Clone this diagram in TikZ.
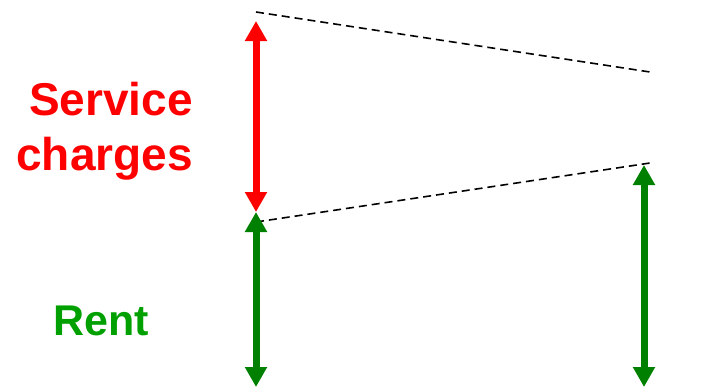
\documentclass[tikz,border=0pt]{standalone}
\usepackage{fontspec}
\setmainfont{Liberation Sans}
\usetikzlibrary{arrows.meta}
\definecolor{sred}{RGB}{255,0,0}
\definecolor{agreen}{RGB}{0,128,0}
\definecolor{tgreen}{RGB}{0,160,0}
\tikzset{
  dbl/.style={line width=7pt, {Triangle[width=21pt,length=20pt]}-{Triangle[width=21pt,length=20pt]}},
  dash line/.style={line width=1.6pt, dash pattern=on 8pt off 5pt},
  lbl/.style={font=\bfseries, inner sep=0pt, anchor=base east, align=right}
}
\begin{document}
\begin{tikzpicture}[x=1pt,y=-1pt]
\useasboundingbox (0,0) rectangle (711,389);
\coordinate (rtop) at (256,21);
\coordinate (mid) at (256,212);
\coordinate (lbot) at (256,387);
\coordinate (rgtop) at (644,165);
\coordinate (rgbot) at (644,387);
\coordinate (d1a) at (256,12);
\coordinate (d1b) at (650,72);
\coordinate (d2a) at (256,222);
\coordinate (d2b) at (650,163);
\draw[dash line] (d1a) -- (d1b);
\draw[dash line] (d2a) -- (d2b);
\draw[dbl, draw=sred, fill=sred] (rtop) -- (mid);
\draw[dbl, draw=agreen, fill=agreen] (mid) -- (lbot);
\draw[dbl, draw=agreen, fill=agreen] (rgtop) -- (rgbot);
\node[lbl, text=sred, font=\fontsize{46}{55}\selectfont\bfseries] (sc) at (193,170) {Service\\charges};
\node[lbl, text=tgreen, font=\fontsize{43}{50}\selectfont\bfseries, anchor=base west] (rent) at (53,335) {Rent};
\end{tikzpicture}
\end{document}
